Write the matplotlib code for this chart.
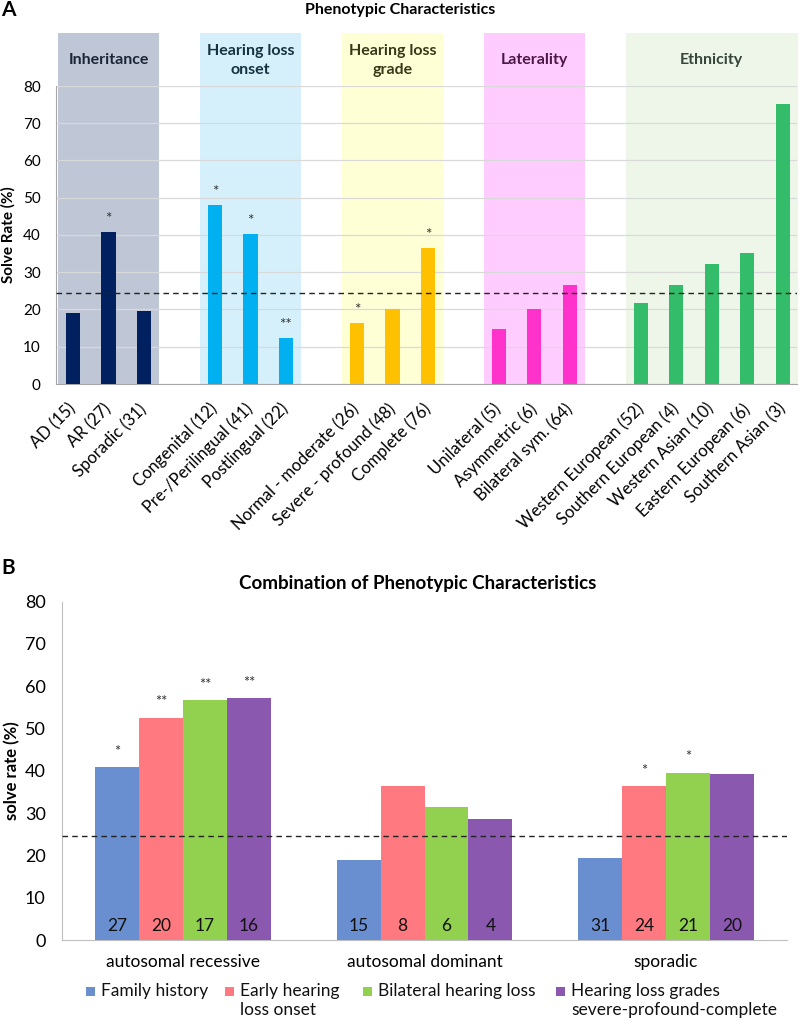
"""Phenotypic characteristics vs. solve rate (two panels)."""

import matplotlib
matplotlib.use("Agg")
import matplotlib.pyplot as plt
from matplotlib.patches import Rectangle
import numpy as np

plt.rcParams["font.family"] = ["Lato", "DejaVu Sans"]

# ---- panel A data ----
group_names = ["Inheritance", "Hearing loss\nonset", "Hearing loss\ngrade", "Laterality", "Ethnicity"]
group_labels = [
    ["AD (15)", "AR (27)", "Sporadic (31)"],
    ["Congenital (12)", "Pre-/Perilingual (41)", "Postlingual (22)"],
    ["Normal - moderate (26)", "Severe - profound (48)", "Complete (76)"],
    ["Unilateral (5)", "Asymmetric (6)", "Bilateral sym. (64)"],
    ["Western European (52)", "Southern European (4)", "Western Asian (10)",
     "Eastern European (6)", "Southern Asian (3)"],
]
group_values = [
    [19.0, 40.9, 19.6],
    [48.0, 40.2, 12.3],
    [16.3, 20.0, 36.4],
    [14.7, 20.0, 26.6],
    [21.8, 26.6, 32.2, 35.2, 75.1],
]
group_stars = [
    ["", "*", ""],
    ["*", "*", "**"],
    ["*", "", "*"],
    ["", "", ""],
    ["", "", "", "", ""],
]
bar_colors = ["#002060", "#00b0f0", "#ffc000", "#ff33cc", "#33bd6a"]
bg_colors = ["#bfc6d6", "#d5f0fb", "#ffffd6", "#ffccff", "#eef6e9"]
head_colors = ["#1c2536", "#15323f", "#38381a", "#4d1748", "#36463a"]

baseline = 24.5

# ---- panel B data ----
b_categories = ["autosomal recessive", "autosomal dominant", "sporadic"]
b_series = ["Family history", "Early hearing\nloss onset", "Bilateral hearing loss",
            "Hearing loss grades\nsevere-profound-complete"]
b_values = [
    [40.9, 18.9, 19.5],   # family history
    [52.6, 36.4, 36.4],   # early onset
    [56.7, 31.5, 39.6],   # bilateral
    [57.2, 28.5, 39.2],   # severe-profound-complete
]
b_counts = [
    [27, 15, 31],
    [20, 8, 24],
    [17, 6, 21],
    [16, 4, 20],
]
b_stars = [
    ["*", "", ""],
    ["**", "", "*"],
    ["**", "", "*"],
    ["**", "", ""],
]
b_colors = ["#6a8fd0", "#ff7a80", "#92d050", "#8b58b0"]

W, H = 800, 1021
fig = plt.figure(figsize=(W / 100, H / 100), dpi=100)


def fx(px):
    return px / W


def fy(py):
    return 1 - py / H


# ================= Panel A =================
axA = fig.add_axes([fx(56), fy(384), fx(797) - fx(56), fy(86) - fy(384)])
pos = 0
tick_pos, tick_lab = [], []
for g, (name, labs, vals, stars) in enumerate(zip(group_names, group_labels, group_values, group_stars)):
    xs = np.arange(pos, pos + len(vals))
    axA.add_patch(Rectangle((xs[0] - 0.43, 0), xs[-1] - xs[0] + 0.86, 94.3,
                            facecolor=bg_colors[g], edgecolor="none", clip_on=False, zorder=0))
    axA.bar(xs, vals, width=0.4, color=bar_colors[g], zorder=3)
    for x, v, s in zip(xs, vals, stars):
        if s:
            axA.text(x, v + 1.6, s, ha="center", va="bottom", fontsize=11, color="#333333", zorder=4)
    axA.text(xs.mean(), 86.9, name, ha="center", va="center", fontsize=11.5,
             fontweight="bold", color=head_colors[g], linespacing=1.5)
    tick_pos += list(xs)
    tick_lab += labs
    pos += len(vals) + 1

axA.set_xlim(-0.48, tick_pos[-1] + 0.4)
axA.set_ylim(0, 80)
axA.set_yticks(np.arange(0, 81, 10))
axA.tick_params(axis="y", labelsize=11, length=0, pad=11)
axA.set_xticks(tick_pos)
axA.set_xticklabels(tick_lab, rotation=45, ha="right", va="center", fontsize=12,
                    rotation_mode="anchor")
axA.tick_params(axis="x", length=0, pad=16)
axA.grid(axis="y", color="#d9d9d9", linewidth=0.9, zorder=1)
axA.set_axisbelow(True)
axA.axhline(baseline, color="#222222", linestyle=(0, (4, 3)), linewidth=1.0, zorder=5)
for side in ["top", "right"]:
    axA.spines[side].set_visible(False)
for side in ["left", "bottom"]:
    axA.spines[side].set_color("#a6a6a6")
axA.set_ylabel("Solve Rate (%)", fontsize=11, fontweight="bold", labelpad=5)
axA.patch.set_alpha(0)

fig.text(fx(400), fy(10), "Phenotypic Characteristics", ha="center", va="center",
         fontsize=11.5, fontweight="bold")
fig.text(fx(1), fy(10), "A", ha="left", va="center", fontsize=15, fontweight="bold")

# ================= Panel B =================
axB = fig.add_axes([fx(62.3), fy(940), fx(786.7) - fx(62.3), fy(601.7) - fy(940)])
bw = 0.182
n = len(b_series)
xc = np.arange(len(b_categories))
for i in range(n):
    xs = xc + (i - (n - 1) / 2) * bw
    axB.bar(xs, b_values[i], width=bw, color=b_colors[i], zorder=3)
    for x, v, c, s in zip(xs, b_values[i], b_counts[i], b_stars[i]):
        axB.text(x, 3.4, str(c), ha="center", va="center", fontsize=12.5, color="#111111", zorder=4)
        if s:
            axB.text(x, v + 2.0, s, ha="center", va="bottom", fontsize=10.5, color="#333333", zorder=4)

axB.set_xlim(-0.5, 2.5)
axB.set_ylim(0, 80)
axB.set_yticks(np.arange(0, 81, 10))
axB.tick_params(axis="y", labelsize=13, length=0, pad=12)
axB.set_xticks(xc)
axB.set_xticklabels(b_categories, fontsize=12.5)
axB.tick_params(axis="x", length=0, pad=10)
axB.axhline(baseline, color="#222222", linestyle=(0, (4, 3)), linewidth=1.0, zorder=5)
for side in ["top", "right"]:
    axB.spines[side].set_visible(False)
for side in ["left", "bottom"]:
    axB.spines[side].set_color("#bfbfbf")
axB.set_ylabel("solve rate (%)", fontsize=12, fontweight="bold", labelpad=3)

fig.text(fx(418), fy(583), "Combination of Phenotypic Characteristics", ha="center", va="center",
         fontsize=13.5, fontweight="bold")
fig.text(fx(1), fy(568), "B", ha="left", va="center", fontsize=15, fontweight="bold")

# legend drawn by hand so the swatch sits on the first text line
leg_x = [86, 225, 363, 556]
leg_y = 991
for i, lab in enumerate(b_series):
    fig.add_artist(Rectangle((fx(leg_x[i]), fy(leg_y + 5)), fx(9), fy(0) - fy(9),
                             facecolor=b_colors[i], edgecolor="none"))
    fig.text(fx(leg_x[i] + 15), fy(leg_y - 8), lab, ha="left", va="top", fontsize=12.5,
             linespacing=1.25, color="#111111")

fig.savefig("out.png", dpi=100)
